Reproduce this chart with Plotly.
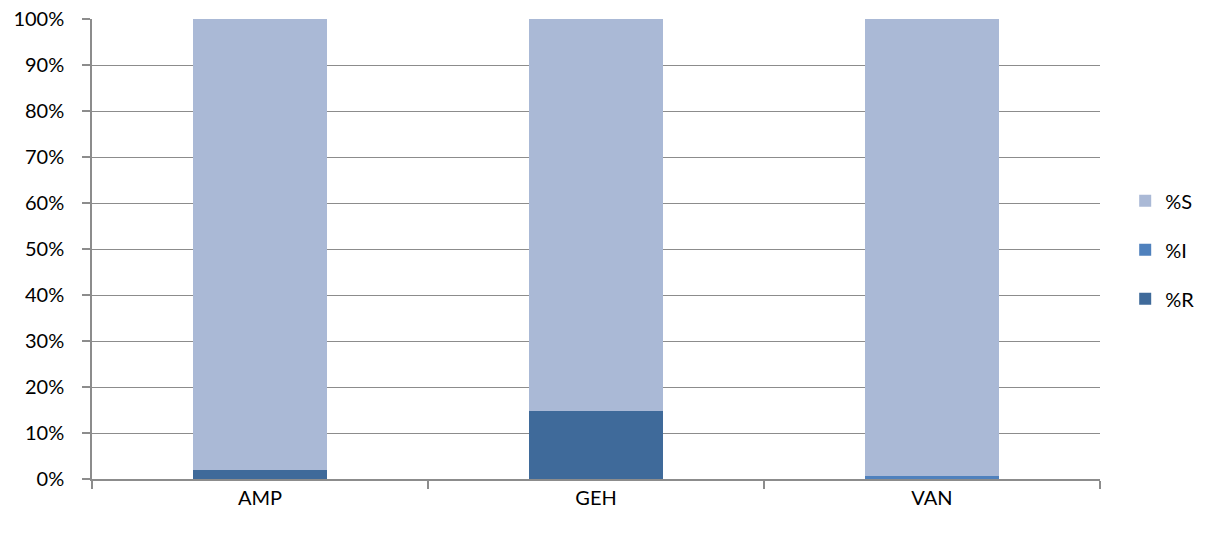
import plotly.graph_objects as go

categories = ["AMP", "GEH", "VAN"]
pct_r = [2.0, 14.8, 0.0]
pct_i = [0.0, 0.0, 0.7]
pct_s = [98.0, 85.2, 99.3]

colors = {"%R": "#3F6A9A", "%I": "#4F81BD", "%S": "#AAB9D6"}
legend_rank = {"%S": 1, "%I": 2, "%R": 3}
line_grey = "#8C8C8C"

fig = go.Figure()
for name, vals in [("%R", pct_r), ("%I", pct_i), ("%S", pct_s)]:
    fig.add_trace(go.Bar(
        x=categories, y=vals, name=name, legendgroup=name,
        legendrank=legend_rank[name],
        marker=dict(color=colors[name], line=dict(width=0)),
        width=0.4,
    ))

fig.update_layout(
    barmode="stack",
    width=1206, height=535,
    margin=dict(l=92, r=106, t=19, b=56),
    plot_bgcolor="white", paper_bgcolor="white",
    font=dict(family="Lato, Open Sans, sans-serif", size=20, color="#000000"),
    legend=dict(
        xref="container", yref="container",
        x=0.933, y=0.533, xanchor="left", yanchor="middle",
        traceorder="grouped", tracegroupgap=20,
        font=dict(size=20), itemwidth=30,
    ),
    xaxis=dict(
        tickson="boundaries", ticks="outside", ticklen=8, tickwidth=1.5,
        tickcolor=line_grey,
        showline=True, linecolor=line_grey, linewidth=1.5,
        showgrid=False, automargin=False,
    ),
    yaxis=dict(
        range=[0, 100], dtick=10, ticksuffix="%",
        ticks="outside", ticklen=8, tickwidth=1.5, tickcolor=line_grey,
        showline=True, linecolor=line_grey, linewidth=1.5,
        showgrid=True, gridcolor=line_grey, gridwidth=1.2,
        zeroline=False, automargin=False, ticklabelstandoff=14,
    ),
)

fig.write_html("out.html")
